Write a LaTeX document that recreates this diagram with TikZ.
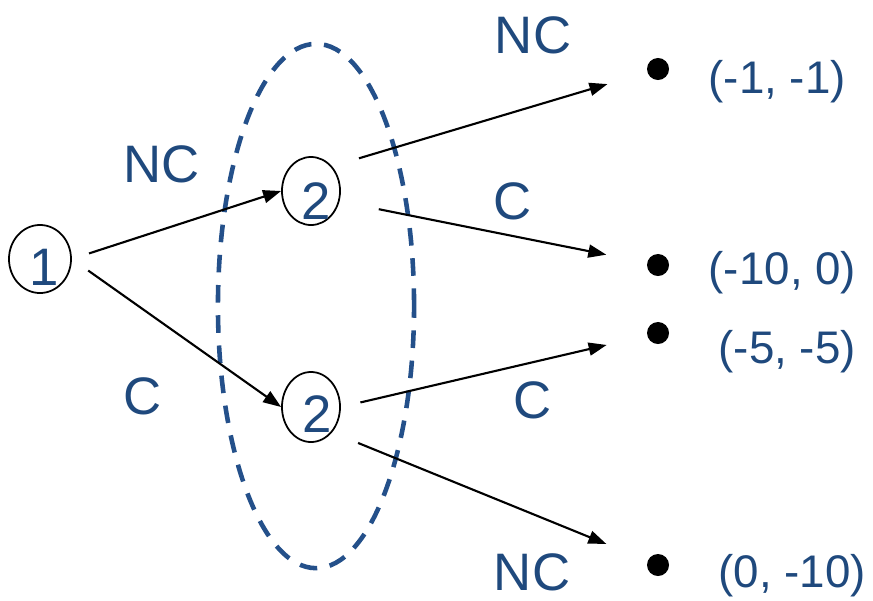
\documentclass[tikz,border=0pt]{standalone}
\usepackage{fontspec}
\setmainfont{Liberation Sans}
\usetikzlibrary{arrows.meta,shapes.geometric}
\definecolor{gblue}{RGB}{31,73,125}
\definecolor{gdash}{RGB}{36,80,138}
\tikzset{
  dnode/.style={draw=black, line width=0.5pt, ellipse, inner sep=0pt},
  dig/.style={font=\fontsize{15}{18}\selectfont, text=gblue, inner sep=0pt},
  act/.style={font=\fontsize{15}{18}\selectfont, text=gblue, inner sep=0pt},
  pay/.style={font=\fontsize{13}{16}\selectfont, text=gblue, inner sep=0pt, anchor=west},
  tdot/.style={circle, fill=black, inner sep=0pt, minimum size=2.2mm},
  mv/.style={-{Triangle[length=1.8mm, width=1.3mm]}, line width=0.6pt},
  iset/.style={draw=gdash, line width=1.3pt, dash pattern=on 5pt off 3.6pt},
}

\begin{document}
\begin{tikzpicture}[x=0.01cm, y=-0.01cm]
  \useasboundingbox (0,0) rectangle (873,600);
  % information set of player 2
  \draw[iset] (316,306) ellipse [x radius=9.8mm, y radius=26.2mm];
  % decision nodes
  \node[dnode, minimum width=6.2mm, minimum height=6.8mm] (n1) at (40,259) {};
  \node[dnode, minimum width=5.8mm, minimum height=6.8mm] (n2a) at (311,191) {};
  \node[dnode, minimum width=5.8mm, minimum height=7mm] (n2b) at (311,407) {};
  \node[dig] (d1) at (44,267) {1};
  \node[dig] (d2a) at (316,201) {2};
  \node[dig] (d2b) at (317,414) {2};
  % terminal nodes and payoffs
  \node[tdot] (t1) at (658,69) {};
  \node[tdot] (t2) at (658,265) {};
  \node[tdot] (t3) at (658,333) {};
  \node[tdot] (t4) at (658,565) {};
  \node[pay] (p1) at (708,82) {(-1, -1)};
  \node[pay] (p2) at (708,273) {(-10, 0)};
  \node[pay] (p3) at (718,352) {(-5, -5)};
  \node[pay] (p4) at (718,576) {(0, -10)};
  % moves
  \draw[mv, shorten <=1.8mm] (n1.east) -- (n2a.west);
  \draw[mv, shorten <=2mm] (n1.east) -- (n2b.west);
  \draw[mv, shorten <=2.8mm, shorten >=4.1mm] (n2a.north east) -- (t1);
  \draw[mv, shorten <=4mm, shorten >=4.1mm] (n2a.-20) -- (t2);
  \draw[mv, shorten <=2mm, shorten >=4.1mm] (n2b.east) -- (t3);
  \draw[mv, shorten <=2.8mm, shorten >=4.4mm] (n2b.south east) -- (t4);
  % action labels
  \node[act] (l1) at (162,164) {NC};
  \node[act] (l2) at (143,396) {C};
  \node[act] (l3) at (533,35) {NC};
  \node[act] (l4) at (513,201) {C};
  \node[act] (l5) at (533,400) {C};
  \node[act] (l6) at (532,572) {NC};
\end{tikzpicture}
\end{document}
